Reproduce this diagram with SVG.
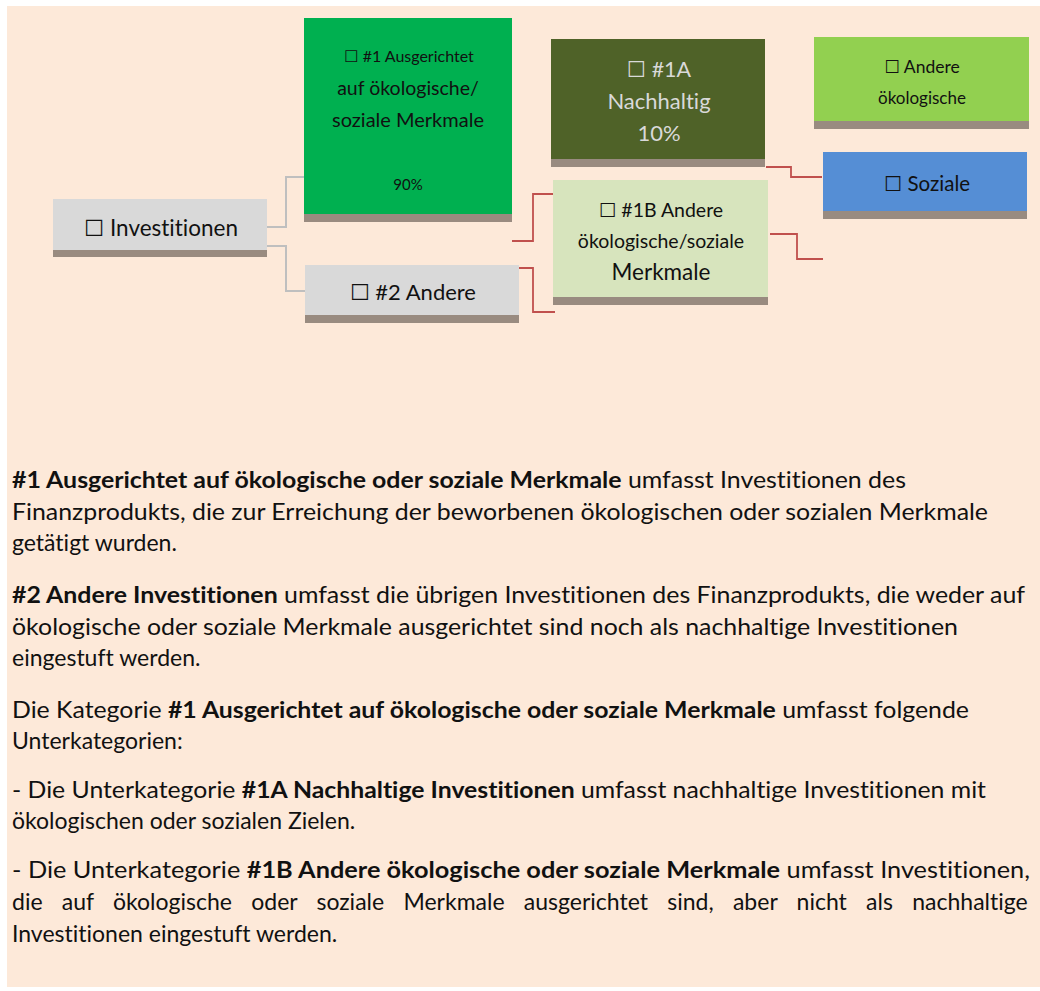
<svg xmlns="http://www.w3.org/2000/svg" width="1040" height="991" viewBox="0 0 1040 991">
<style>
text{font-family:Lato,"DejaVu Sans",sans-serif;fill:#111;font-variant-ligatures:none;font-feature-settings:"liga" 0}
.c{text-anchor:middle}
.p{font-size:23px}
.b{font-weight:bold}
.sh{fill:#998B80}
.cg{fill:none;stroke:#BFBFBF;stroke-width:2}
.cr{fill:none;stroke:#C0504D;stroke-width:1.8}
.lt{fill:#D9D9D9}
</style>
<rect x="0" y="0" width="1040" height="991" fill="#FFFFFF"/>
<rect x="7" y="6" width="1033" height="981" fill="#FDE9D9"/>
<g id="connectors">
<path class="cg" d="M267 227H286V177H304"/>
<path class="cg" d="M267 246H286V291H305"/>
<path class="cr" d="M512 241H533V194H553"/>
<path class="cr" d="M511 268H533V312H555"/>
<path class="cr" d="M766 167H791V177H822"/>
<path class="cr" d="M770 234H797V259H823"/>
</g>
<g id="investitionen">
<rect x="53" y="199" width="214" height="51" fill="#D9D9D9"/>
<rect class="sh" x="53" y="250" width="214" height="7"/>
<text class="c" x="161" y="236" font-size="22.5">☐ Investitionen</text>
</g>
<g id="n1">
<rect x="304" y="18" width="208" height="196" fill="#00B050"/>
<rect class="sh" x="304" y="214" width="208" height="8"/>
<text class="c" x="409" y="62" font-size="16">☐ #1 Ausgerichtet</text>
<text class="c" x="408" y="95" font-size="19.5">auf ökologische/</text>
<text class="c" x="408" y="127" font-size="20">soziale Merkmale</text>
<text class="c" x="408" y="190" font-size="15">90%</text>
</g>
<g id="n2">
<rect x="305" y="265" width="214" height="50" fill="#D9D9D9"/>
<rect class="sh" x="305" y="315" width="214" height="8"/>
<text class="c" x="413" y="300" font-size="22">☐ #2 Andere</text>
</g>
<g id="n1a">
<rect x="551" y="39" width="214" height="120" fill="#4F6228"/>
<rect class="sh" x="551" y="159" width="214" height="8"/>
<text class="c lt" x="659" y="77" font-size="21.5">☐ #1A</text>
<text class="c lt" x="659" y="109" font-size="22">Nachhaltig</text>
<text class="c lt" x="659" y="141" font-size="22">10%</text>
</g>
<g id="n1b">
<rect x="553" y="180" width="215" height="117" fill="#D7E4BD"/>
<rect class="sh" x="553" y="297" width="215" height="8"/>
<text class="c" x="661" y="217" font-size="19.5">☐ #1B Andere</text>
<text class="c" x="661" y="248" font-size="19.5">ökologische/soziale</text>
<text class="c" x="661" y="280" font-size="22.5">Merkmale</text>
</g>
<g id="andere">
<rect x="814" y="37" width="215" height="84" fill="#92D050"/>
<rect class="sh" x="814" y="121" width="215" height="8"/>
<text class="c" x="922" y="73" font-size="17.5">☐ Andere</text>
<text class="c" x="922" y="104" font-size="17">ökologische</text>
</g>
<g id="soziale">
<rect x="823" y="152" width="204" height="59" fill="#558ED5"/>
<rect class="sh" x="823" y="211" width="204" height="8"/>
<text class="c" x="927" y="191" font-size="20.5">☐ Soziale</text>
</g>
<g id="text">
<text class="p" x="12" y="488" textLength="894" lengthAdjust="spacingAndGlyphs"><tspan class="b">#1 Ausgerichtet auf ökologische oder soziale Merkmale</tspan> umfasst Investitionen des</text>
<text class="p" x="12" y="520" textLength="976" lengthAdjust="spacingAndGlyphs">Finanzprodukts, die zur Erreichung der beworbenen ökologischen oder sozialen Merkmale</text>
<text class="p" x="12" y="551">getätigt wurden.</text>
<text class="p" x="12" y="603" textLength="1013" lengthAdjust="spacingAndGlyphs"><tspan class="b">#2 Andere Investitionen</tspan> umfasst die übrigen Investitionen des Finanzprodukts, die weder auf</text>
<text class="p" x="12" y="635" textLength="946" lengthAdjust="spacingAndGlyphs">ökologische oder soziale Merkmale ausgerichtet sind noch als nachhaltige Investitionen</text>
<text class="p" x="12" y="666">eingestuft werden.</text>
<text class="p" x="12" y="718" textLength="957" lengthAdjust="spacingAndGlyphs">Die Kategorie <tspan class="b">#1 Ausgerichtet auf ökologische oder soziale Merkmale</tspan> umfasst folgende</text>
<text class="p" x="12" y="749">Unterkategorien:</text>
<text class="p" x="12" y="798" textLength="974" lengthAdjust="spacingAndGlyphs">- Die Unterkategorie <tspan class="b">#1A Nachhaltige Investitionen</tspan> umfasst nachhaltige Investitionen mit</text>
<text class="p" x="12" y="829">ökologischen oder sozialen Zielen.</text>
<text class="p" x="12" y="878" textLength="1018" lengthAdjust="spacingAndGlyphs">- Die Unterkategorie <tspan class="b">#1B Andere ökologische oder soziale Merkmale</tspan> umfasst Investitionen,</text>
<text class="p" x="12" y="910" word-spacing="13.4">die auf ökologische oder soziale Merkmale ausgerichtet sind, aber nicht als nachhaltige</text>
<text class="p" x="12" y="942">Investitionen eingestuft werden.</text>
</g>
</svg>
